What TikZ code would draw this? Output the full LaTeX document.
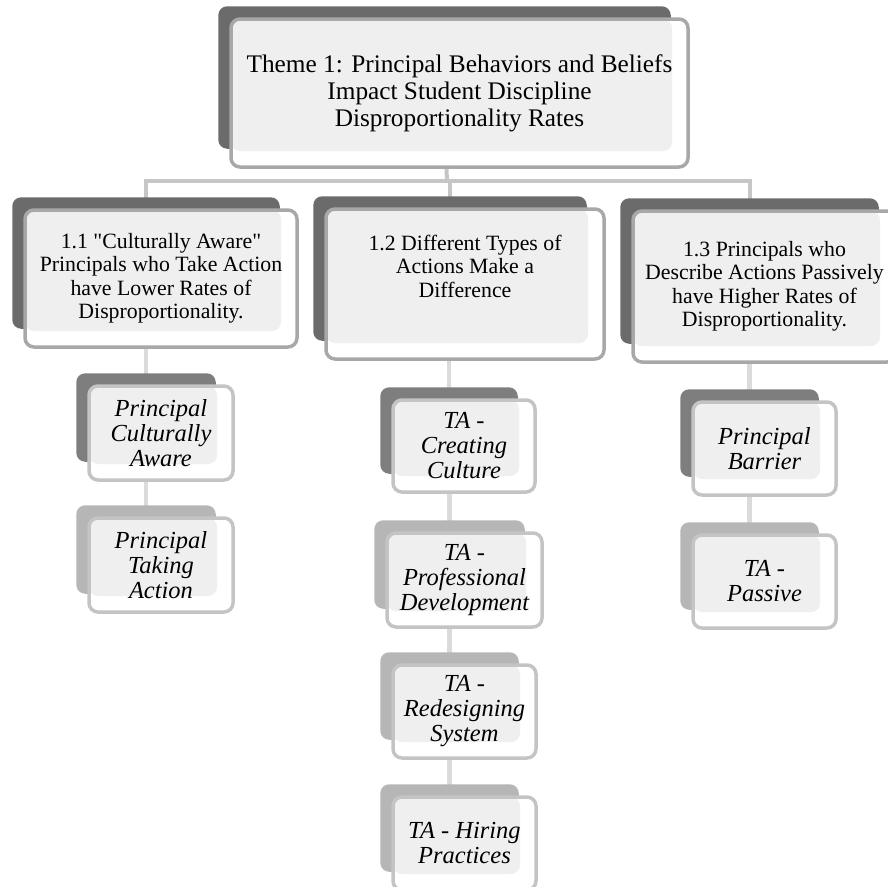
\documentclass[tikz,border=0pt]{standalone}
\usepackage{fontspec}
\setmainfont{Liberation Serif}[Ligatures=TeXOff]
\usetikzlibrary{calc}
\usetikzlibrary{backgrounds}
\definecolor{shdark}{HTML}{6B6B6B}
\definecolor{shmid}{HTML}{7E7E7E}
\definecolor{shlight}{HTML}{B6B6B6}
\definecolor{innerfill}{HTML}{EFEFEF}
\definecolor{rim}{HTML}{A8A8A8}
\definecolor{rimlight}{HTML}{C4C4C4}

\begin{document}
\begin{tikzpicture}[x=1pt, y=-1pt,
 box/.style={rounded corners=9pt, fill=white, line width=3.5pt, align=center, inner sep=0pt,
  path picture={\fill[innerfill] (path picture bounding box.north west) rectangle ([xshift=-16pt,yshift=16pt]path picture bounding box.south east);}},
 mainbox/.style={box, draw=rim, font=\fontsize{25.3}{27}\selectfont},
 subbox/.style={box, draw=rim, font=\fontsize{21.8}{23.5}\selectfont},
 subtext/.style={align=center, inner sep=0pt, font=\fontsize{21.8}{23.5}\selectfont},
 leafbox/.style={box, draw=rimlight, minimum width=143pt, minimum height=93pt, font=\fontsize{24.5}{25}\selectfont\itshape},
 conn/.style={draw=gray!45, line width=4pt},
 leafconn/.style={draw=gray!28, line width=4.5pt}]
\useasboundingbox (0,0) rectangle (888,886);
\clip (0,0) rectangle (888,886);

\node[mainbox, minimum width=457pt, minimum height=148pt] (theme) at (459.5,93) {Theme 1: Principal Behaviors and Beliefs\\ Impact Student Discipline\\ Disproportionality Rates};

\node[subbox, minimum width=272pt, minimum height=137pt] (sub1) at (161,278.5) {1.1 "Culturally Aware"\\ Principals who Take Action\\ have Lower Rates of\\ Disproportionality.};
\node[subbox, minimum width=278pt, minimum height=150pt] (sub2) at (465,284) {};
\node[subtext] (sub2text) at ([yshift=18pt]sub2.center) {1.2 Different Types of\\ Actions Make a\\ Difference};
\node[subbox, minimum width=263pt, minimum height=151pt] (sub3) at (764.5,286.5) {1.3 Principals who\\ Describe Actions Passively\\ have Higher Rates of\\ Disproportionality.};

\node[leafbox, minimum width=144pt, minimum height=94pt] (aware) at (161,433) {Principal\\ Culturally\\ Aware};
\node[leafbox, minimum width=144pt, minimum height=94pt] (acting) at (161,565) {Principal\\ Taking\\ Action};
\node[leafbox, minimum width=142pt, minimum height=92pt] (culture) at (464,446) {TA -\\ Creating\\ Culture};
\node[leafbox, minimum width=155pt, minimum height=94pt] (profdev) at (464.5,580) {TA -\\ Professional\\ Development};
\node[leafbox] (redesign) at (464.5,711.5) {TA -\\ Redesigning\\ System};
\node[leafbox] (hiring) at (464.5,843.5) {TA - Hiring\\ Practices};
\node[leafbox] (barrier) at (764.5,448.5) {Principal\\ Barrier};
\node[leafbox] (passive) at (764.5,581.5) {TA -\\ Passive};

\begin{scope}[on background layer]
\coordinate (bus) at (447,181);
\draw[conn] ([xshift=-13pt]theme.south) -- (bus);
\foreach \s in {sub1,sub2,sub3}
 \draw[conn] (bus) -| ([xshift=-15pt]\s.north);
\foreach \a/\b in {sub1/aware, aware/acting, sub2/culture, culture/profdev, profdev/redesign, redesign/hiring, sub3/barrier, barrier/passive}
 \draw[leafconn] ([xshift=-15pt]\b.north |- \a.south) -- ([xshift=-15pt]\b.north);
\foreach \n/\c in {theme/shdark, sub1/shdark, sub2/shdark, sub3/shdark, aware/shmid, acting/shlight, culture/shmid, profdev/shlight, redesign/shlight, hiring/shlight, barrier/shmid, passive/shlight}
 \fill[\c, rounded corners=9pt] ([shift={(-11pt,11pt)}]\n.north west) rectangle ([shift={(-19pt,20pt)}]\n.south east);
\end{scope}
\end{tikzpicture}
\end{document}
